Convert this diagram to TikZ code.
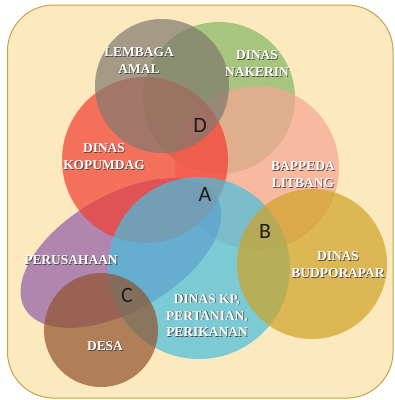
\documentclass[tikz,border=0pt]{standalone}
\usepackage{fontspec}
\setmainfont{Liberation Serif}
\newfontfamily\lettersf{Carlito}
\definecolor{panelfill}{HTML}{FCE9BE}
\definecolor{panelline}{HTML}{C9A24A}
\definecolor{cgray}{HTML}{7F796E}
\definecolor{cgreen}{HTML}{84B763}
\definecolor{cred}{HTML}{F33D30}
\definecolor{cpink}{HTML}{F7A594}
\definecolor{cgold}{HTML}{D0A326}
\definecolor{ccyan}{HTML}{46BFDE}
\definecolor{cpurple}{HTML}{905DAA}
\definecolor{cbrown}{HTML}{90532D}
\definecolor{shadowc}{HTML}{4A4440}
\definecolor{letterc}{HTML}{1C1C1C}
% white caption text with a soft dark drop shadow
\newcommand\shd[1]{\leavevmode\rlap{\kern0.8pt\raisebox{-0.8pt}{\color{shadowc}#1}}#1}
\tikzset{
  blob/.style={opacity=0.7},
  caption/.style={text=white, align=center, inner sep=0pt,
    font=\bfseries\fontsize{13.5}{17}\selectfont},
  zone/.style={text=letterc, inner sep=0pt, font=\lettersf\fontsize{22}{22}\selectfont},
}
\begin{document}
\begin{tikzpicture}[x=1bp, y=-1bp]
\useasboundingbox (0,0) rectangle (395,400);
% panel
\fill[panelfill, draw=panelline, line width=1bp, rounded corners=46bp] (7.5,5) rectangle (393,398);
% overlapping sets
\fill[blob, cgreen]  (219,98)  circle[radius=76bp];
\fill[blob, cpink]   (257,168) circle[radius=82bp];
\fill[blob, cpurple, rotate around={30:(121,253)}] (121,253) ellipse[x radius=111bp, y radius=58bp];
\fill[blob, cred]    (145,160) circle[radius=83bp];
\fill[blob, ccyan]   (199,268) circle[radius=91bp];
\fill[blob, cgold]   (312,264) circle[radius=75bp];
\fill[blob, cbrown]  (101,330) circle[radius=57bp];
\fill[blob, cgray]   (162,86)  circle[radius=67bp];
% set captions
\node[caption] (amal)  at (139,61)  {\shd{LEMBAGA}\\\shd{AMAL}};
\node[caption] (naker) at (257,64)  {\shd{DINAS}\\\shd{NAKERIN}};
\node[caption] (kopum) at (104,157) {\shd{DINAS}\\\shd{KOPUMDAG}};
\node[caption] (bapp)  at (303,175) {\shd{BAPPEDA}\\\shd{LITBANG}};
\node[caption] (perus) at (71,261)  {\shd{PERUSAHAAN}};
\node[caption] (budpo) at (338,265) {\shd{DINAS}\\\shd{BUDPORAPAR}};
\node[caption] (kp)    at (207,316) {\shd{DINAS KP,}\\\shd{PERTANIAN,}\\\shd{PERIKANAN}};
\node[caption] (desa)  at (105,347) {\shd{DESA}};
% intersection letters
\node[zone] (zA) at (205,194) {A};
\node[zone] (zB) at (265,231) {B};
\node[zone] (zC) at (127,295) {C};
\node[zone] (zD) at (200,125) {D};
\end{tikzpicture}
\end{document}
